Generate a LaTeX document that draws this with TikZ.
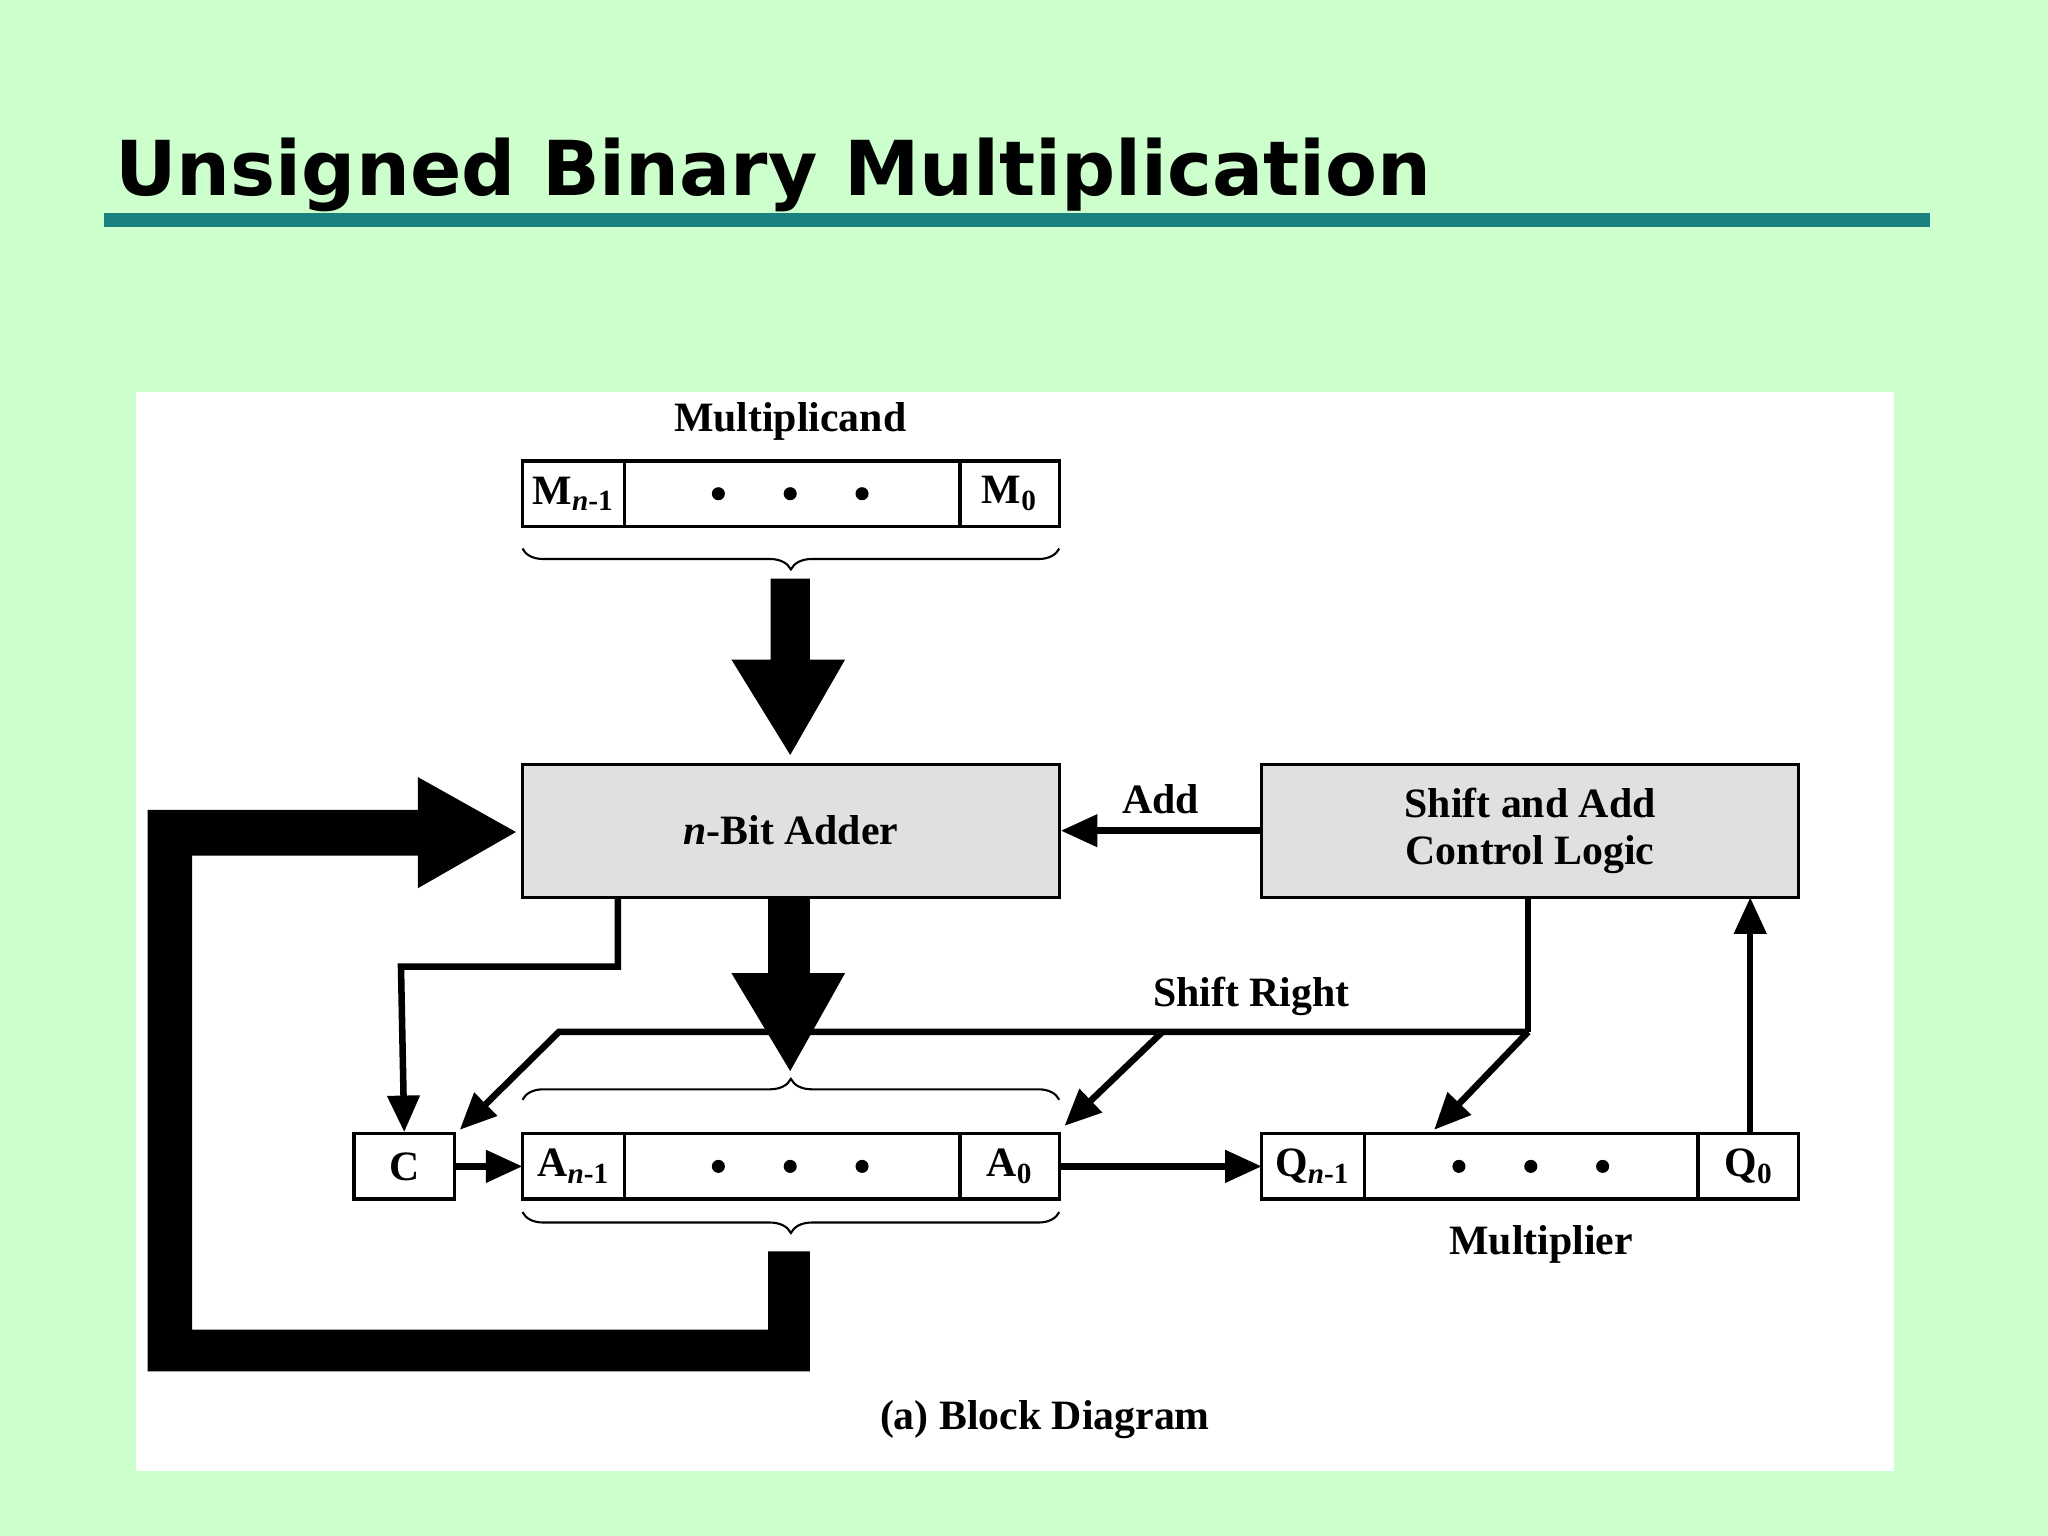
\documentclass[tikz,border=0pt]{standalone}
\usepackage{fontspec}
\setmainfont{Liberation Serif}
\newfontfamily\titlefont{DejaVu Sans}
\usetikzlibrary{arrows.meta,decorations.pathreplacing}
\definecolor{bgg}{HTML}{CCFFCC}
\definecolor{teal2}{HTML}{1A8080}
\definecolor{boxg}{HTML}{E0E0E0}
\begin{document}
\begin{tikzpicture}[x=0.5pt,y=-0.5pt,
  reg/.style={draw,line width=1.2pt,fill=white},
  lbl/.style={font=\fontsize{16}{18}\selectfont\bfseries},
  thin/.style={line width=2.5pt},
  arr/.style={thin,-{Triangle[length=14pt,width=12pt]}},
  brc/.style={decorate,decoration={brace,amplitude=8pt},line width=0.8pt}]
\fill[bgg] (0,0) rectangle (1568,1176);
\useasboundingbox (0,0) rectangle (1568,1176);
\node[anchor=base west,inner sep=0,font=\titlefont\fontsize{29}{32}\selectfont\bfseries] (title) at (88,150) {Unsigned Binary Multiplication};
\fill[teal2] (80,163) rectangle (1478,174);
\fill[white] (104,300) rectangle (1450,1126);
% multiplicand
\node[lbl] (mcl) at (605,323) {Multiplicand};
\draw[reg] (400,353) rectangle (811,403);
\draw[line width=1.2pt] (478,353)--(478,403) (735,353)--(735,403);
\node[lbl] (mn) at (439,378) {M\textsubscript{\textit{n}-1}};
\node[lbl] (m0) at (773,378) {M\textsubscript{0}};
\foreach \x in {550,605,660} \fill (\x,378) circle (2.5pt);
\draw[brc] (811,420) -- (400,420);
\fill (590,443) -- (620,443) -- (620,505) -- (647,505) -- (605,578) -- (560,505) -- (590,505) -- cycle;
% adder & control
\node[draw,line width=1.2pt,fill=boxg,minimum width=205.5pt,minimum height=51pt,lbl] (adder) at (605.5,636) {\textit{n}-Bit Adder};
\node[draw,line width=1.2pt,fill=boxg,minimum width=205.5pt,minimum height=51pt,lbl,align=center] (ctrl) at (1171.5,636) {Shift and Add\\Control Logic};
\draw[arr] (ctrl.west) -- (adder.east) node[midway,above=2pt,lbl] {Add};
\fill (588,687) -- (620,687) -- (620,745) -- (647,745) -- (605,820) -- (560,745) -- (588,745) -- cycle;
% feedback
\fill (588,958) -- (620,958) -- (620,1050) -- (113,1050) -- (113,620) -- (320,620) -- (320,595) -- (395,637) -- (320,680) -- (320,655) -- (147,655) -- (147,1018) -- (588,1018) -- cycle;
% registers
\node[draw,line width=1.2pt,fill=white,minimum width=38.5pt,minimum height=25pt,lbl] (C) at (309.5,893) {C};
\draw[reg] (400,868) rectangle (811,918);
\draw[line width=1.2pt] (478,868)--(478,918) (735,868)--(735,918);
\node[lbl] (an) at (439,893) {A\textsubscript{\textit{n}-1}};
\node[lbl] (a0) at (773,893) {A\textsubscript{0}};
\foreach \x in {550,605,660} \fill (\x,893) circle (2.5pt);
\draw[reg] (966,868) rectangle (1377,918);
\draw[line width=1.2pt] (1045,868)--(1045,918) (1300,868)--(1300,918);
\node[lbl] (qn) at (1005,893) {Q\textsubscript{\textit{n}-1}};
\node[lbl] (q0) at (1339,893) {Q\textsubscript{0}};
\foreach \x in {1117,1172,1227} \fill (\x,893) circle (2.5pt);
\node[lbl] (mul) at (1180,953) {Multiplier};
\draw[brc] (400,842) -- (811,842);
\draw[brc] (811,928) -- (400,928);
\coordinate (cin) at (348,893);
\draw[arr] (C.east) -- (400,893);
\draw[arr] (811,893) -- (966,893);
\draw[arr] (1340,868) -- (1340,687);
\draw[arr] (473,687) -- (473,740) -- (307,740) -- (C.north);
\coordinate (j) at (1170,790);
\draw[thin] (1170,687) -- (j);
\draw[arr] (j) -- (1098,865);
\draw[arr] (j) -- (428,790) -- (352,865);
\draw[arr] (890,790) -- (815,862);
\node[lbl] (sr) at (958,763) {Shift Right};
\node[lbl] (cap) at (800,1087) {(a) Block Diagram};
\end{tikzpicture}
\end{document}
